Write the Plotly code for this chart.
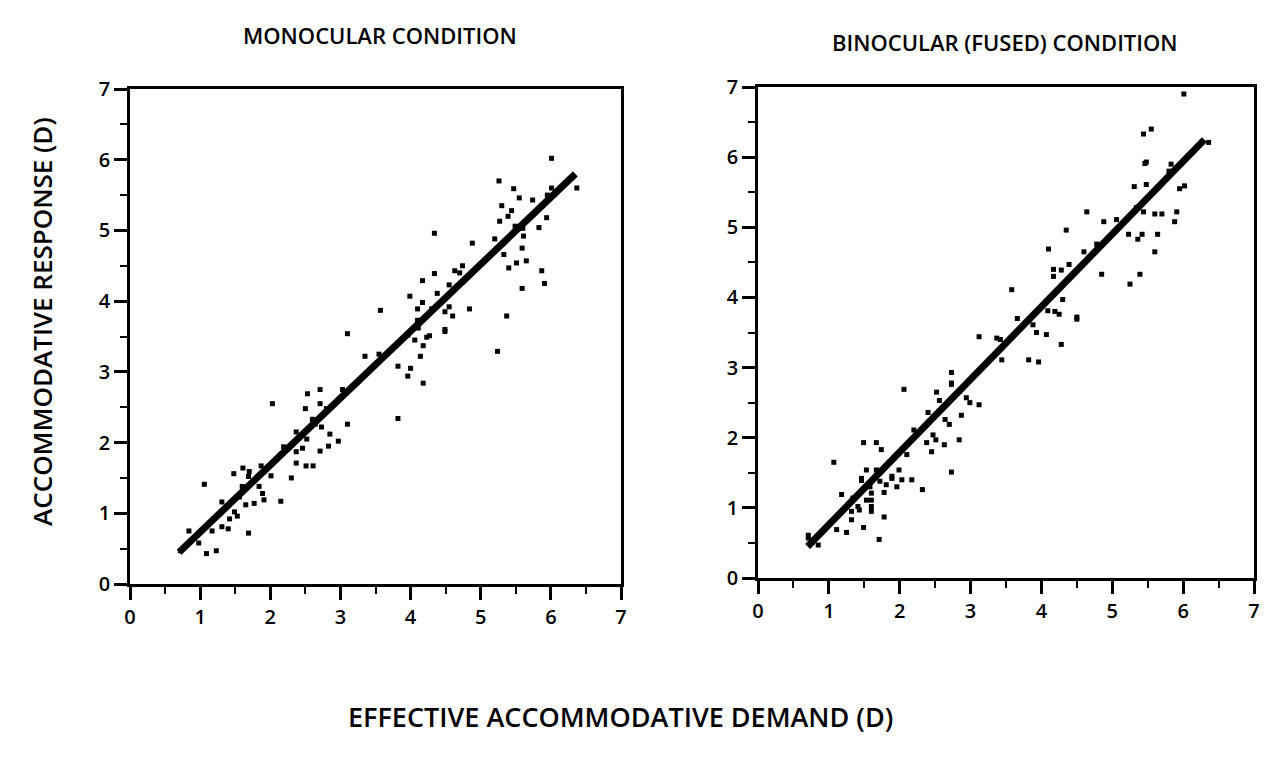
import plotly.graph_objects as go

# ---- data ----
mono_x = [6.01, 5.26, 5.47, 6.01, 6.37, 5.55, 5.74, 5.30, 5.44, 5.39, 5.27, 5.94, 5.49, 5.60, 5.83, 5.61,
          4.34, 5.20, 4.88, 5.59, 5.33, 5.51, 5.65, 5.40, 5.87, 5.91, 5.59, 4.74, 4.63, 4.34, 4.17, 4.55,
          3.99, 4.38, 4.17, 4.10, 4.30, 4.55, 4.49, 4.60, 4.84, 3.57, 5.37, 4.49, 4.10, 3.96, 4.23, 4.11,
          3.35, 4.27, 4.18, 4.49, 4.14, 3.82, 4.00, 3.96, 4.18, 3.82, 5.24, 4.06,
          3.10, 3.03, 2.71, 2.53, 2.71, 2.50, 2.03, 3.10, 2.64, 2.73, 2.37, 2.85, 2.97, 2.52, 2.83, 2.71,
          2.46, 2.19, 2.37, 2.37, 2.51, 2.61, 2.30, 2.15, 2.01, 1.87, 1.48, 1.61, 1.70, 1.06, 1.89, 1.91,
          1.77, 1.65, 1.56, 1.31, 1.49, 1.53, 1.42, 1.31, 1.40, 1.69, 1.17, 0.84, 0.98, 1.23, 1.09, 1.84,
          1.69, 0.72, 1.60, 2.60, 3.55, 4.70, 5.95, 2.80]
mono_y = [6.02, 5.70, 5.59, 5.60, 5.60, 5.46, 5.43, 5.35, 5.28, 5.20, 5.13, 5.18, 5.06, 5.03, 5.04, 4.92,
          4.96, 4.88, 4.82, 4.75, 4.66, 4.54, 4.57, 4.47, 4.43, 4.25, 4.18, 4.50, 4.43, 4.39, 4.29, 4.23,
          4.07, 4.11, 3.98, 3.89, 3.89, 3.92, 3.85, 3.79, 3.89, 3.87, 3.79, 3.60, 3.73, 3.52, 3.49, 3.62,
          3.22, 3.51, 3.37, 3.57, 3.22, 3.08, 3.05, 2.94, 2.84, 2.34, 3.29, 3.45,
          3.54, 2.75, 2.75, 2.69, 2.55, 2.48, 2.55, 2.26, 2.26, 2.22, 2.15, 2.12, 2.02, 2.05, 1.95, 1.88,
          1.92, 1.94, 1.87, 1.71, 1.67, 1.67, 1.50, 1.17, 1.53, 1.67, 1.56, 1.64, 1.59, 1.41, 1.28, 1.19,
          1.14, 1.12, 1.23, 1.16, 1.02, 0.96, 0.92, 0.81, 0.78, 0.72, 0.75, 0.75, 0.58, 0.47, 0.43, 1.38,
          1.52, 0.47, 1.38, 2.33, 3.25, 4.40, 5.50, 2.48]
mono_fit_x = [0.70, 6.35]
mono_fit_y = [0.45, 5.80]

bino_x = [6.01, 5.55, 5.44, 6.36, 5.46, 5.48, 5.83, 5.31, 5.48, 6.02, 5.95, 5.34, 5.44, 5.60, 5.70, 5.91,
          5.88, 4.64, 5.06, 4.88, 4.35, 5.23, 5.42, 5.36, 5.64, 4.10, 5.60, 4.78, 4.39, 4.17, 4.28, 4.17,
          4.85, 5.39, 5.25, 3.58, 4.30, 4.09, 4.19, 4.25, 4.50, 4.50, 3.88, 3.93, 4.07, 3.37, 3.44, 4.28,
          3.82, 3.96, 3.12, 3.42,
          2.73, 2.73, 2.73, 2.06, 2.52, 2.56, 2.94, 2.99, 3.12, 2.87, 2.64, 2.70, 2.20, 2.47, 2.51, 2.38,
          2.63, 2.84, 2.45, 2.10, 2.73, 1.49, 1.67, 1.74, 1.07, 1.53, 1.67, 1.46, 1.46, 1.89, 1.89, 1.99,
          2.03, 2.17, 1.72, 1.81, 1.96, 2.32, 1.58, 1.60, 1.53, 1.60, 1.78, 1.18, 1.34, 1.41, 1.43, 1.60,
          1.60, 1.32, 1.32, 1.78, 1.49, 1.11, 1.25, 1.71, 0.71, 0.71, 0.85, 0.76, 3.66, 4.60, 5.80, 2.40]
bino_y = [6.90, 6.40, 6.33, 6.21, 5.91, 5.93, 5.90, 5.58, 5.61, 5.59, 5.55, 5.28, 5.22, 5.19, 5.19, 5.22,
          5.08, 5.22, 5.11, 5.08, 4.96, 4.90, 4.90, 4.83, 4.90, 4.69, 4.65, 4.76, 4.47, 4.40, 4.39, 4.30,
          4.33, 4.33, 4.19, 4.11, 3.97, 3.81, 3.80, 3.76, 3.72, 3.69, 3.61, 3.50, 3.47, 3.42, 3.11, 3.33,
          3.11, 3.08, 3.44, 3.40,
          2.93, 2.78, 2.76, 2.69, 2.65, 2.53, 2.57, 2.50, 2.47, 2.32, 2.26, 2.19, 2.11, 2.04, 1.97, 1.93,
          1.90, 1.97, 1.80, 1.76, 1.51, 1.93, 1.93, 1.83, 1.65, 1.54, 1.54, 1.42, 1.39, 1.45, 1.42, 1.54,
          1.40, 1.40, 1.38, 1.33, 1.30, 1.26, 1.30, 1.21, 1.11, 1.11, 1.22, 1.19, 1.14, 1.02, 0.97, 1.02,
          0.95, 0.95, 0.83, 0.87, 0.72, 0.69, 0.65, 0.55, 0.61, 0.57, 0.47, 0.50, 3.70, 4.65, 5.80, 2.36]
bino_fit_x = [0.70, 6.30]
bino_fit_y = [0.45, 6.25]

tick_vals = [0, 1, 2, 3, 4, 5, 6, 7]
tick_text = ["0", "1", "2", "3", "4", "5", "6", "7"]

FONT = "Open Sans"
W, H = 1286, 757

fig = go.Figure()

for xs, ys, fx, fy, ax in [(mono_x, mono_y, mono_fit_x, mono_fit_y, ""),
                           (bino_x, bino_y, bino_fit_x, bino_fit_y, "2")]:
    fig.add_trace(go.Scatter(x=xs, y=ys, mode="markers", xaxis="x" + ax, yaxis="y" + ax,
                             marker=dict(symbol="square", size=5, color="black"),
                             showlegend=False))
    fig.add_trace(go.Scatter(x=fx, y=fy, mode="lines", xaxis="x" + ax, yaxis="y" + ax,
                             line=dict(color="black", width=7), showlegend=False))

axis_common = dict(range=[0, 7], showline=True, mirror=True, linecolor="black", linewidth=2.5,
                   ticks="outside", ticklen=13, tickwidth=2.5, tickcolor="black",
                   tickvals=tick_vals, ticktext=tick_text, automargin=False,
                   minor=dict(dtick=0.5, tick0=0, ticks="outside", ticklen=7, tickwidth=2, tickcolor="black"),
                   showgrid=False, zeroline=False,
                   tickfont=dict(family=FONT, size=20, color="black", weight=600))


def ann(text, x, y, size, angle=0):
    return dict(text=text, x=x / W, y=1 - y / H, xref="paper", yref="paper",
                xanchor="center", yanchor="middle", showarrow=False, textangle=angle,
                font=dict(family=FONT, size=size, color="black", weight=600))


fig.update_layout(
    width=W, height=H,
    margin=dict(l=0, r=0, t=0, b=0, autoexpand=False),
    paper_bgcolor="white", plot_bgcolor="white",
    xaxis=dict(domain=[130 / W, 621 / W], anchor="y", **axis_common),
    yaxis=dict(domain=[1 - 584 / H, 1 - 89 / H], anchor="x", **axis_common),
    xaxis2=dict(domain=[758 / W, 1254 / W], anchor="y2", **axis_common),
    yaxis2=dict(domain=[1 - 578 / H, 1 - 87 / H], anchor="x2", **axis_common),
    annotations=[
        ann("MONOCULAR CONDITION", 380, 35, 22),
        ann("BINOCULAR (FUSED) CONDITION", 1005, 42, 22),
        ann("ACCOMMODATIVE RESPONSE (D)", 42, 322, 26, -90),
        ann("EFFECTIVE ACCOMMODATIVE DEMAND (D)", 620, 716, 27),
    ],
)

fig.write_html("out.html")
